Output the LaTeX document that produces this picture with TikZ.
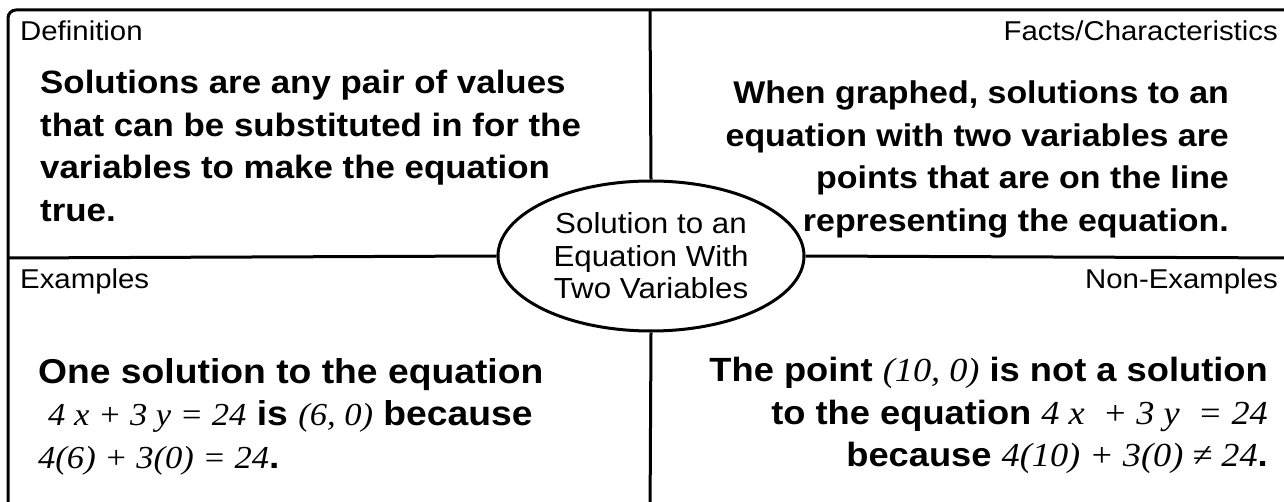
\documentclass[tikz,border=0pt]{standalone}
\usepackage{fontspec}
\setmainfont[FakeStretch=1.08]{Liberation Sans}
\newfontfamily\eqfont[FakeStretch=1.08]{Liberation Serif}
\usetikzlibrary{shapes.geometric, positioning}
\newcommand{\eqn}[1]{{\eqfont\mdseries\itshape #1}}
\newcommand{\smalleqn}[1]{{\fontsize{32}{42.5}\selectfont\eqn{#1}}}

\begin{document}
\begin{tikzpicture}[x=1pt, y=-1pt,
  frame/.style={line width=3pt},
  tag/.style={font=\fontsize{27.2}{30}\selectfont, inner sep=0pt},
  body/.style={font=\fontsize{#1}{42.5}\selectfont\bfseries, inner sep=0pt},
  body/.default=32.3,
  topic/.style={ellipse, draw, line width=3pt, fill=white, minimum width=306pt, minimum height=150pt, inner sep=0pt, align=center, font=\fontsize{29}{32.5}\selectfont}
]
  \useasboundingbox (0,0) rectangle (1284,502);
  \clip (0,0) rectangle (1284,502);
  \draw[frame, rounded corners=8pt] (8,10) rectangle (1300,520);

  \coordinate (top) at (650,10);
  \coordinate (bottom) at (650,520);
  \coordinate (left) at (8,258);
  \coordinate (right) at (1300,258);
  \node[topic] (hub) at (651,256) {Solution to an\\Equation With\\Two Variables};
  \draw[frame] (top) -- (hub.north);
  \draw[frame] (hub.south) -- (bottom);
  \draw[frame] (left) -- (hub.west);
  \draw[frame] (hub.east) -- (right);

  \node[tag, anchor=base west] (deftag) at (20,41) {Definition};
  \node[tag, anchor=base east] (factstag) at (1278,41) {Facts/Characteristics};
  \node[tag, anchor=base west] (extag) at (20,289) {Examples};
  \node[tag, anchor=base east] (nonextag) at (1278,289) {Non-Examples};

  \node[body, align=left, anchor=north west] (defbody) at (40,70)
    {Solutions are any pair of values\\that can be substituted in for the\\variables to make the equation\\true.};
  \node[body=31.4, align=right, anchor=north east] (factsbody) at (1229,81)
    {When graphed, solutions to an\\equation with two variables are\\points that are on the line\\representing the equation.};
  \node[body=34.5, align=left, anchor=north west] (exbody) at (38,358)
    {One solution to the equation\\\hspace{10pt}\smalleqn{4 x + 3 y = 24} is \smalleqn{(6, 0)} because\\\smalleqn{4(6) + 3(0) = 24}.};
  \node[body=33.6, align=right, anchor=north east] (nonexbody) at (1268,357)
    {The point \eqn{(10, 0)} is not a solution\\to the equation \eqn{4 x \ + 3 y \ = 24}\\because \eqn{4(10) + 3(0) ≠ 24}.};
\end{tikzpicture}
\end{document}
